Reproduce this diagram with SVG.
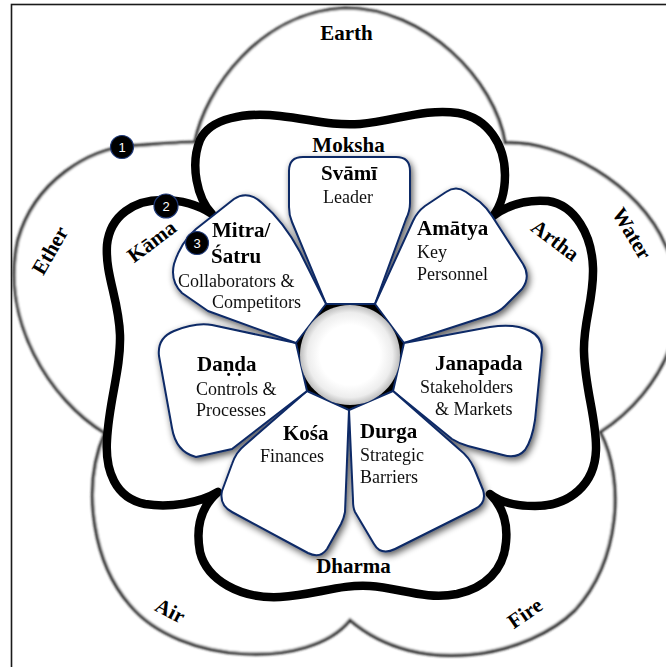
<svg xmlns="http://www.w3.org/2000/svg" width="666" height="667" viewBox="0 0 666 667">
  <defs>
    <style>
      .frame{fill:#fff;stroke:#1a1a1a;stroke-width:1.6}
      .elements{fill:#fff;stroke:#262626;stroke-width:3.2}
      .aims{fill:none;stroke:#000;stroke-width:8.5;stroke-linejoin:round}
      .petal{fill:#fff;stroke:#0d2966;stroke-width:2;stroke-linejoin:round}
      .lbl{font-family:"Liberation Serif","Times New Roman",serif;font-weight:bold;font-size:21px;fill:#000}
      .sub{font-family:"Liberation Serif","Times New Roman",serif;font-size:18px;fill:#111}
      .mid{text-anchor:middle}
      .num circle{fill:#000;stroke:#1f3a7a;stroke-width:1.2}
      .num text{font-family:"Liberation Sans",Arial,sans-serif;font-size:13px;fill:#fff;text-anchor:middle}
    </style>
    <filter id="soft" x="-5%" y="-5%" width="110%" height="110%">
      <feGaussianBlur stdDeviation="0.9"/>
    </filter>
    <filter id="shadow" x="-20%" y="-20%" width="140%" height="140%">
      <feGaussianBlur in="SourceAlpha" stdDeviation="3.5"/>
      <feOffset dx="2" dy="3" result="b"/>
      <feComponentTransfer><feFuncA type="linear" slope="0.65"/></feComponentTransfer>
      <feMerge><feMergeNode/><feMergeNode in="SourceGraphic"/></feMerge>
    </filter>
    <radialGradient id="hub" cx="50%" cy="50%" r="50%">
      <stop offset="0" stop-color="#fff"/>
      <stop offset="0.6" stop-color="#fff"/>
      <stop offset="0.85" stop-color="#ededed"/>
      <stop offset="1" stop-color="#bdbdbd"/>
    </radialGradient>
  </defs>

  <!-- page frame -->
  <rect class="frame" x="11.5" y="4.5" width="700" height="700"/>

  <!-- five elements: outer cloud -->
  <g id="elements">
    <path class="elements" filter="url(#soft)" d="M195,142 C205,90 260,12 345,8 C425,8 495,80 505,143 C560,140 640,185 665,245 C700,310 665,390 600,432 C625,480 620,560 575,610 C530,655 420,680 350,620 C310,670 180,665 130,605 C95,565 80,490 105,433 C50,400 0,320 18,240 C35,180 90,149 130,146 C160,144 185,142 195,142 Z"/>
    <text class="lbl mid" x="346.5" y="40">Earth</text>
    <text class="lbl mid" transform="translate(626,237) rotate(59)">Water</text>
    <text class="lbl mid" transform="translate(529,619) rotate(-35)">Fire</text>
    <text class="lbl mid" transform="translate(167,617) rotate(27)">Air</text>
    <text class="lbl mid" transform="translate(56,254) rotate(-60)">Ether</text>
  </g>

  <!-- four aims of life: thick quatrefoil -->
  <g id="aims">
    <path class="aims" d="M212,214 C197,198 190,165 200,140 C210,118 245,112 280,116 C310,119 330,126 360,124 C395,121 425,108 458,113 C488,118 505,145 505,175 C505,195 500,207 493,216 C508,205 525,199 548,201 C575,205 592,235 593,268 C594,300 583,322 584,352 C585,390 597,420 596,450 C595,484 570,506 535,506 C515,506 500,502 490,494 C502,506 508,522 506,542 C504,570 485,588 457,594 C425,600 400,588 370,586 C340,584 315,595 280,597 C240,599 207,580 200,552 C195,525 203,505 218,492 C200,503 170,508 145,504 C115,498 105,470 107,440 C109,400 121,370 120,335 C119,300 105,275 107,245 C110,215 135,200 162,200 C182,200 200,206 212,214 Z"/>
    <text class="lbl mid" x="348.5" y="152">Moksha</text>
    <text class="lbl mid" x="353.5" y="573">Dharma</text>
    <text class="lbl mid" transform="translate(551,246) rotate(37)">Artha</text>
    <text class="lbl mid" transform="translate(156,247) rotate(-37)">Kāma</text>
  </g>

  <!-- seven limbs of the state -->
  <g id="limbs" filter="url(#shadow)">
    <polygon fill="#000" points="326,304 375,304 404,343 393,391 349,410 307,391 296,343"/>
    <g id="svami">
      <path class="petal" d="M326,304 L292,222 Q289,215 289,207 L289,171 Q289,157 303,157 L396,157 Q410,157 410,171 L410,203 Q410,211 406,219 L375,304 Z"/>
      <text class="lbl mid" x="349" y="180">Svāmī</text>
      <text class="sub mid" x="348" y="203">Leader</text>
    </g>
    <g id="amatya">
      <path class="petal" d="M375,304 L413,221 Q417,212 425,206 L446,192 Q456,185 466,192 L480,202 Q487,208 492,216 L523,264 Q531,277 522,289 L505,306 Q499,312 490,315 L404,343 Z"/>
      <text class="lbl" x="417" y="235">Amātya</text>
      <text class="sub" x="417" y="258">Key</text>
      <text class="sub" x="417" y="280">Personnel</text>
    </g>
    <g id="janapada">
      <path class="petal" d="M404,343 L490,327 Q515,323 530,331 Q542,337 542,350 L535,420 Q532,440 525,450 Q517,459 503,455 L468,446 Q460,444 452,439 L393,391 Z"/>
      <text class="lbl" x="435" y="370">Janapada</text>
      <text class="sub" x="420" y="393">Stakeholders</text>
      <text class="sub" x="435" y="415">&amp; Markets</text>
    </g>
    <g id="durga">
      <path class="petal" d="M393,391 L460,450 Q469,457 474,468 L483,490 Q487,503 475,509 L395,549 Q381,556 374,544 L355,512 Q353,508 353,500 L349,410 Z"/>
      <text class="lbl" x="360" y="438">Durga</text>
      <text class="sub" x="360" y="461">Strategic</text>
      <text class="sub" x="360" y="483">Barriers</text>
    </g>
    <g id="kosa">
      <path class="petal" d="M349,410 L345,512 Q344,518 341,524 L327,549 Q320,559 308,553 L232,512 Q219,505 222,491 L232,464 Q236,452 245,445 L307,391 Z"/>
      <text class="lbl" x="283" y="440">Kośa</text>
      <text class="sub" x="260" y="462">Finances</text>
    </g>
    <g id="danda">
      <path class="petal" d="M296,343 L212,325 Q196,322 174,331 Q157,338 159,356 L172,428 Q176,452 196,457 L232,449 L307,391 Z"/>
      <text class="lbl" x="197" y="371">Daṇḍa</text>
      <text class="sub" x="196" y="395">Controls &amp;</text>
      <text class="sub" x="196" y="416">Processes</text>
    </g>
    <g id="mitra">
      <path class="petal" d="M326,304 L300,252 Q284,222 262,203 Q248,190 234,199 L196,229 Q181,242 174,264 Q170,281 182,293 L208,311 L296,343 Z"/>
      <text class="lbl" x="212" y="237">Mitra/</text>
      <text class="lbl" x="211" y="263">Śatru</text>
      <text class="sub" x="178" y="287">Collaborators &amp;</text>
      <text class="sub" x="212" y="308">Competitors</text>
    </g>
  </g>

  <!-- hub -->
  <g id="hub-circle">
    <circle cx="350" cy="355" r="50" fill="url(#hub)"/>
  </g>

  <!-- layer markers -->
  <g id="marker-1" class="num">
    <circle cx="122" cy="147" r="11.5"/>
    <text x="122" y="151.5">1</text>
  </g>
  <g id="marker-2" class="num">
    <circle cx="166" cy="206" r="12"/>
    <text x="166" y="210.5">2</text>
  </g>
  <g id="marker-3" class="num">
    <circle cx="197" cy="243" r="11.5"/>
    <text x="197" y="247.5">3</text>
  </g>
</svg>
